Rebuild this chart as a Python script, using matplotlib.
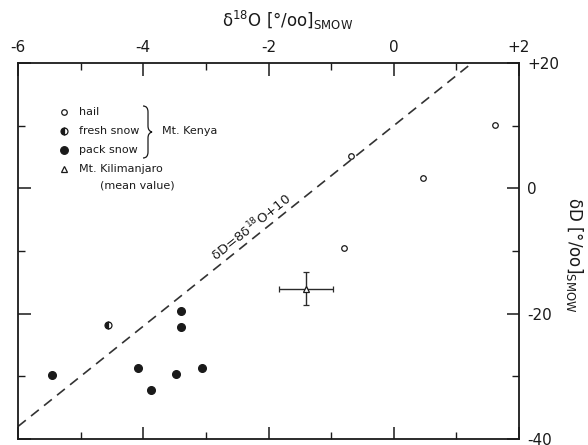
import matplotlib
matplotlib.use("Agg")
import matplotlib.pyplot as plt
from matplotlib.path import Path
from matplotlib.patches import PathPatch
import numpy as np

# ---- data ----
hail_x = [1.62, 0.46, -0.69, -0.80]
hail_y = [10.1, 1.65, 5.1, -9.5]
fresh_x = [-4.57]
fresh_y = [-21.8]
pack_x = [-5.45, -4.09, -3.88, -3.48, -3.39, -3.39, -3.06]
pack_y = [-29.8, -28.7, -32.2, -29.6, -19.6, -22.2, -28.7]
kili_x = [-1.40]
kili_y = [-16.0]
kili_xerr = [0.43]
kili_yerr = [2.6]
line_slope = 8
line_intercept = 10
x_ticklabels = ["-6", "-4", "-2", "0", "+2"]
x_tickvals = [-6, -4, -2, 0, 2]
y_ticklabels = ["-40", "-20", "0", "+20"]
y_tickvals = [-40, -20, 0, 20]

C = "#1a1a1a"
plt.rcParams["font.family"] = ["DejaVu Sans"]

fig = plt.figure(figsize=(5.88, 4.45), dpi=100)
L, R, T, B = 18, 519, 63, 439
W, H = 588, 445
ax = fig.add_axes([L / W, 1 - B / H, (R - L) / W, (B - T) / H])
ax.set_xlim(-6, 2)
ax.set_ylim(-40, 20)

for s in ax.spines.values():
    s.set_linewidth(1.3)
    s.set_color(C)

# ticks
ax.set_xticks(x_tickvals)
ax.set_xticks(np.arange(-6, 3, 1), minor=True)
ax.set_yticks(y_tickvals)
ax.set_yticks([-30, -10, 10], minor=True)
ax.tick_params(axis="both", which="both", direction="in", colors=C,
               top=True, bottom=True, left=True, right=True,
               labeltop=True, labelbottom=False, labelleft=False, labelright=True)
ax.tick_params(which="major", length=9, width=1.1, labelsize=11, pad=6)
ax.tick_params(which="minor", length=5, width=1.0)
ax.set_xticklabels(x_ticklabels)
ax.set_yticklabels(y_ticklabels)

# reference line
xx = np.array([-6, 2])
ax.plot(xx, line_slope * xx + line_intercept, ls=(0, (6, 4)), lw=1.2, color="#333333")

# data
ax.plot(hail_x, hail_y, "o", ms=4, mfc="white", mec=C, mew=0.9, ls="none")
ax.plot(fresh_x, fresh_y, "o", ms=5, fillstyle="left", mfc=C, mfcalt="white",
        mec=C, mew=0.9, ls="none")
ax.plot(pack_x, pack_y, "o", ms=5.5, mfc=C, mec=C, ls="none")
ax.errorbar(kili_x, kili_y, xerr=kili_xerr, yerr=kili_yerr, fmt="^", ms=4.5,
            mfc="white", mec=C, mew=0.9, ecolor="#2a2a2a", elinewidth=1.0,
            capsize=2.5, capthick=1.0)

# equation label
ax.text(-2.28, -6.2, "δD=8δ$^{18}$O+10", rotation=38.6, rotation_mode="anchor",
        ha="center", va="center", fontsize=9.5, color=C)

# legend (manual)
def axc(px, py):
    return ((px - L) / (R - L), (B - py) / (B - T))

tr = ax.transAxes
mx = 64
fs_leg = 8
rows = [(112, "o", dict(mfc="white", ms=4), "hail"),
        (131, "o", dict(mfc=C, fillstyle="left", markerfacecoloralt="white", ms=5), "fresh snow"),
        (150, "o", dict(mfc=C, ms=5.5), "pack snow"),
        (169, "^", dict(mfc="white", ms=4.5), "Mt. Kilimanjaro")]
for py, m, kw, lab in rows:
    x0, y0 = axc(mx, py)
    ax.plot([x0], [y0], m, transform=tr, mec=C, mew=0.9, clip_on=False, **kw)
    tx, ty = axc(79, py)
    ax.text(tx, ty, lab, transform=tr, fontsize=fs_leg, va="center", ha="left", color=C)
tx, ty = axc(100, 186)
ax.text(tx, ty, "(mean value)", transform=tr, fontsize=fs_leg, va="center", ha="left", color=C)

# brace
bp = [(143, 106), (148, 106), (148, 112), (148, 126), (148, 131), (152, 132),
      (148, 133), (148, 138), (148, 152), (148, 158), (143, 158)]
verts = [axc(px, py) for px, py in bp]
codes = [Path.MOVETO, Path.CURVE3, Path.CURVE3, Path.LINETO, Path.CURVE3, Path.CURVE3,
         Path.CURVE3, Path.CURVE3, Path.LINETO, Path.CURVE3, Path.CURVE3]
ax.add_patch(PathPatch(Path(verts, codes), transform=tr, fill=False, lw=0.9, ec=C))
tx, ty = axc(162, 131)
ax.text(tx, ty, "Mt. Kenya", transform=tr, fontsize=fs_leg, va="center", ha="left", color=C)

# axis labels
fig.text(288 / W, 1 - 20 / H, "δ$^{18}$O [°/oo]$_{\\mathregular{SMOW}}$", ha="center", va="center",
         fontsize=12, color=C)
fig.text(575 / W, 1 - 255 / H, "δD [°/oo]$_{\\mathregular{SMOW}}$", ha="center", va="center",
         rotation=270, fontsize=12, color=C)

fig.savefig("out.png", dpi=100)
